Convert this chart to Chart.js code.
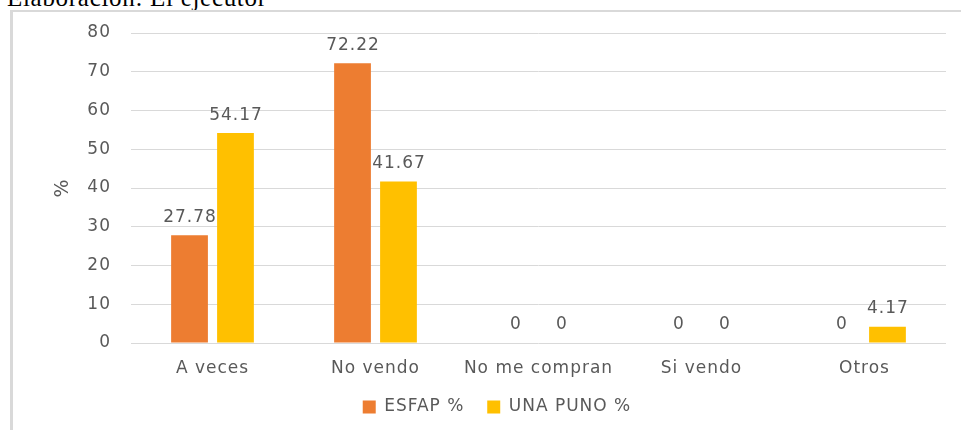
<!DOCTYPE html>
<html>
<head>
<meta charset="utf-8">
<script src="https://cdn.jsdelivr.net/npm/chart.js@4.4.1/dist/chart.umd.min.js"></script>
<style>
	body { margin: 0; background: #fff; }
	#page { position: relative; width: 961px; height: 430px; overflow: hidden; }
	#caption { position: absolute; left: 7px; top: -15px; font-family: "Liberation Serif", serif; font-size: 25px; line-height: 25px; letter-spacing: 0.7px; color: #000; white-space: nowrap; }
	#frame { position: absolute; left: 10px; top: 10px; width: 1000px; height: 500px; border-left: 3px solid #d9d9d9; border-top: 2px solid #d9d9d9; }
	#chartId { position: absolute; left: 0; top: 0; }
</style>
</head>
<body>
<div id="page">
	<div id="caption">Elaboración: El ejecutor</div>
	<div id="frame"></div>
	<canvas id="chartId" width="961" height="430"></canvas>
</div>
<script>
var categories = ['A veces', 'No vendo', 'No me compran', 'Si vendo', 'Otros'];
var esfap = [27.78, 72.22, 0, 0, 0];
var unaPuno = [54.17, 41.67, 0, 0, 4.17];
var yTicks = [0, 10, 20, 30, 40, 50, 60, 70, 80];

var textGray = '#595959';
var gridGray = '#d9d9d9';

// the text in the picture is drawn wide, so add a bit of spacing
var spacing = {
	id: 'spacing',
	beforeLayout: function (chart) { chart.ctx.letterSpacing = '1px'; },
	beforeDraw: function (chart) { chart.ctx.letterSpacing = '1px'; }
};

// value labels above each bar
var barLabels = {
	id: 'barLabels',
	afterDatasetsDraw: function (chart) {
		var ctx = chart.ctx;
		ctx.save();
		ctx.font = '17px "DejaVu Sans"';
		ctx.fillStyle = textGray;
		ctx.textAlign = 'center';
		ctx.textBaseline = 'middle';
		chart.data.datasets.forEach(function (ds, i) {
			chart.getDatasetMeta(i).data.forEach(function (bar, j) {
				ctx.fillText(String(ds.data[j]), bar.x + 0.5, bar.y - 18);
			});
		});
		ctx.restore();
	}
};

Chart.defaults.font.family = '"DejaVu Sans"';
Chart.defaults.font.size = 17;
Chart.defaults.color = textGray;

var chrt = document.getElementById('chartId').getContext('2d');
var chartId = new Chart(chrt, {
	type: 'bar',
	data: {
		labels: categories,
		datasets: [{
			label: 'ESFAP %',
			data: esfap,
			backgroundColor: '#ED7D31',
			borderWidth: 0,
			categoryPercentage: 0.564,
			barPercentage: 0.8
		}, {
			label: 'UNA PUNO %',
			data: unaPuno,
			backgroundColor: '#FFC000',
			borderWidth: 0,
			categoryPercentage: 0.564,
			barPercentage: 0.8
		}]
	},
	options: {
		responsive: false,
		animation: false,
		layout: { padding: { left: 48, right: 15, top: 33, bottom: 4.5 } },
		plugins: {
			legend: {
				position: 'bottom',
				labels: {
					boxWidth: 13,
					boxHeight: 13,
					padding: 10,
					color: textGray,
					// wider gap between the two entries
					generateLabels: function (chart) {
						var items = Chart.defaults.plugins.legend.labels.generateLabels(chart);
						items.forEach(function (it, i) {
							it.lineWidth = 0;
							if (i === 0) it.text = it.text + '  ';
						});
						return items;
					}
				}
			},
			tooltip: { enabled: false }
		},
		scales: {
			x: {
				grid: { display: false },
				border: { display: false },
				ticks: { padding: 7, maxRotation: 0 },
				afterFit: function (s) { s.height = 45.5; }
			},
			y: {
				min: 0,
				max: 80,
				afterBuildTicks: function (s) { s.ticks = yTicks.map(function (v) { return { value: v }; }); },
				grid: { color: gridGray, drawTicks: false },
				border: { display: false },
				ticks: { padding: 20 },
				title: { display: true, text: '%', color: textGray, font: { size: 19 } },
				afterFit: function (s) { s.width = 83; }
			}
		}
	},
	plugins: [spacing, barLabels]
});
</script>
</body>
</html>
